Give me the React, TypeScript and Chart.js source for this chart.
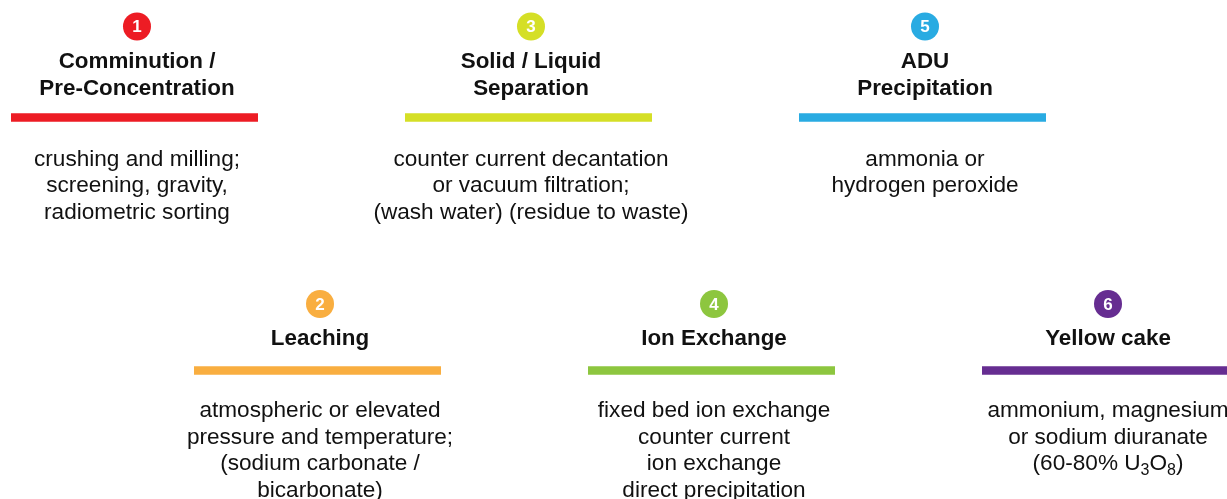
import { useEffect, useRef } from "react";
import { Chart, registerables } from "chart.js";

Chart.register(...registerables);

// ---- data ----
const stepNumbers = [1, 2, 3, 4, 5, 6];
const stepRows = [0, 1, 0, 1, 0, 1];
const stepTitles = [
  ["Comminution /", "Pre-Concentration"],
  ["Leaching"],
  ["Solid / Liquid", "Separation"],
  ["Ion Exchange"],
  ["ADU", "Precipitation"],
  ["Yellow cake"],
];
const stepDescriptions = [
  ["crushing and milling;", "screening, gravity,", "radiometric sorting"],
  ["atmospheric or elevated", "pressure and temperature;", "(sodium carbonate /", "bicarbonate)"],
  ["counter current decantation", "or vacuum filtration;", "(wash water) (residue to waste)"],
  ["fixed bed ion exchange", "counter current", "ion exchange", "direct precipitation"],
  ["ammonia or", "hydrogen peroxide"],
  ["ammonium, magnesium", "or sodium diuranate", "(60-80% U_3O_8)"],
];
const stepColors = ["#ED1C24", "#F9AE40", "#D5DF26", "#8DC63F", "#29ABE2", "#662D91"];

// ---- layout (scale units) ----
const rowShift = [0, -0.071];
const rowCircleY = [26.5, 304];
const rowTitleY = [68, 345];
const rowBarY = [117.5, 370.5];
const rowDescY = [165.7, 417.3];
const barLeft = 0.6396;
const barRight = 0.6142;
const titleLineGap = 27;
const descLineGap = 26.5;
const titleSize = 22.4;
const descSize = 22.6;

const FONT = '"Liberation Sans", Arial, Helvetica, sans-serif';

function drawRichLine(ctx: CanvasRenderingContext2D, text: string, cx: number, y: number, size: number) {
  const segs: { t: string; sub: boolean }[] = [];
  let buf = "";
  for (let i = 0; i < text.length; i++) {
    if (text[i] === "_" && i + 1 < text.length) {
      if (buf) segs.push({ t: buf, sub: false });
      buf = "";
      segs.push({ t: text[i + 1], sub: true });
      i++;
    } else buf += text[i];
  }
  if (buf) segs.push({ t: buf, sub: false });
  const subSize = Math.round(size * 0.7);
  const widths = segs.map((s) => {
    ctx.font = `${s.sub ? subSize : size}px ${FONT}`;
    return ctx.measureText(s.t).width;
  });
  const total = widths.reduce((a, b) => a + b, 0);
  let x = cx - total / 2;
  ctx.textAlign = "left";
  segs.forEach((s, i) => {
    ctx.font = `${s.sub ? subSize : size}px ${FONT}`;
    ctx.fillText(s.t, x, s.sub ? y + 5 : y);
    x += widths[i];
  });
}

const textPlugin = {
  id: "stepText",
  afterDatasetsDraw(chart: any) {
    const ctx = chart.ctx as CanvasRenderingContext2D;
    const xs = chart.scales.x;
    const ys = chart.scales.y;
    ctx.save();
    const circleMeta = chart.getDatasetMeta(chart.data.datasets.length - 1);
    circleMeta.data.forEach((pt: any, i: number) => {
      ctx.fillStyle = "#ffffff";
      ctx.font = `bold 17px ${FONT}`;
      ctx.textAlign = "center";
      ctx.textBaseline = "middle";
      ctx.fillText(String(stepNumbers[i]), pt.x, pt.y + 1);
    });
    ctx.textBaseline = "alphabetic";
    ctx.fillStyle = "#111111";
    stepNumbers.forEach((n, i) => {
      const row = stepRows[i];
      const cx = xs.getPixelForValue(n + rowShift[row]);
      ctx.font = `bold ${titleSize}px ${FONT}`;
      ctx.textAlign = "center";
      stepTitles[i].forEach((line, j) => {
        ctx.fillText(line, cx, ys.getPixelForValue(rowTitleY[row]) + j * titleLineGap);
      });
      stepDescriptions[i].forEach((line, j) => {
        drawRichLine(ctx, line, cx, ys.getPixelForValue(rowDescY[row]) + j * descLineGap, descSize);
      });
    });
    ctx.restore();
  },
};

export default function App() {
  const ref = useRef<HTMLCanvasElement>(null);
  useEffect(() => {
    if (!ref.current) return;
    const barDatasets = stepNumbers.map((n, i) => {
      const row = stepRows[i];
      const c = n + rowShift[row];
      return {
        type: "line" as const,
        data: [
          { x: c - barLeft, y: rowBarY[row] },
          { x: c + barRight, y: rowBarY[row] },
        ],
        borderColor: stepColors[i],
        borderWidth: 8.5,
        borderCapStyle: "butt" as const,
        pointRadius: 0,
        showLine: true,
        clip: false as any,
      };
    });
    const circleDataset = {
      type: "scatter" as const,
      data: stepNumbers.map((n, i) => ({ x: n + rowShift[stepRows[i]], y: rowCircleY[stepRows[i]] })),
      pointRadius: 14,
      pointBackgroundColor: stepColors,
      pointBorderWidth: 0,
      pointBorderColor: stepColors,
      clip: false as any,
    };
    const chart = new Chart(ref.current, {
      type: "scatter",
      data: { datasets: [...barDatasets, circleDataset] as any },
      options: {
        animation: false,
        responsive: false,
        events: [],
        layout: { padding: 0, autoPadding: false },
        plugins: { legend: { display: false }, tooltip: { enabled: false } },
        scales: {
          x: { type: "linear", display: false, min: 0.3046, max: 6.533 },
          y: { type: "linear", display: false, min: 0, max: 499, reverse: true },
        },
      },
      plugins: [textPlugin],
    });
    return () => chart.destroy();
  }, []);
  return (
    <div style={{ position: "absolute", left: 0, top: 0, width: 1227, height: 499, background: "#fff" }}>
      <canvas ref={ref} width={1227} height={499} style={{ display: "block" }} />
    </div>
  );
}
